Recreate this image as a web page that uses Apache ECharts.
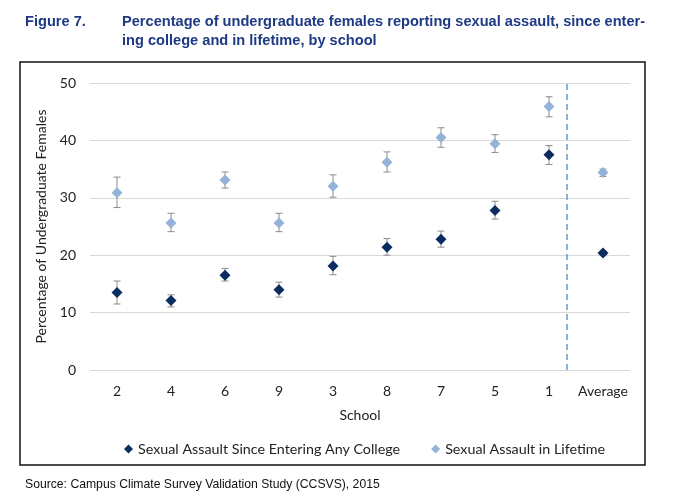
<!DOCTYPE html>
<html>
<head>
<meta charset="utf-8">
<script src="https://cdn.jsdelivr.net/npm/echarts@6/dist/echarts.min.js"></script>
<style>html,body{margin:0;padding:0;background:#fff}#c{width:674px;height:502px}</style>
</head>
<body>
<div id="c"></div>
<script>
const schools = ['2','4','6','9','3','8','7','5','1','Average'];
const sinceCollege = [13.5, 12.1, 16.5, 14.0, 18.1, 21.4, 22.8, 27.8, 37.5, 20.4];
const sinceCollegeLow = [11.5, 11.0, 15.5, 12.7, 16.6, 20.0, 21.4, 26.3, 35.8, 20.1];
const sinceCollegeHigh = [15.5, 13.1, 17.7, 15.3, 19.8, 22.9, 24.2, 29.4, 39.1, 20.7];
const lifetime = [30.9, 25.6, 33.1, 25.6, 32.0, 36.2, 40.5, 39.4, 45.9, 34.4];
const lifetimeLow = [28.3, 24.1, 31.7, 24.1, 30.1, 34.5, 38.8, 37.9, 44.1, 33.7];
const lifetimeHigh = [33.6, 27.3, 34.5, 27.3, 34.0, 38.0, 42.2, 41.0, 47.6, 35.0];
const yTicks = [0, 10, 20, 30, 40, 50];
const separatorAt = 8.83;

const FONT = 'Lato';
const chart = echarts.init(document.getElementById('c'), null, {renderer: 'canvas'});

function errData(lo, hi) {
  return lo.map((v, i) => [i, v, hi[i]]);
}
function errRender(params, api) {
  const x = api.value(0);
  const pHi = api.coord([x, api.value(2)]);
  const pLo = api.coord([x, api.value(1)]);
  const w = 3.5;
  const st = {stroke: '#8c8c8c', lineWidth: 1, fill: null};
  return {
    type: 'group',
    children: [
      {type: 'line', shape: {x1: pHi[0], y1: pHi[1], x2: pLo[0], y2: pLo[1]}, style: st},
      {type: 'line', shape: {x1: pHi[0] - w, y1: pHi[1], x2: pHi[0] + w, y2: pHi[1]}, style: st},
      {type: 'line', shape: {x1: pLo[0] - w, y1: pLo[1], x2: pLo[0] + w, y2: pLo[1]}, style: st}
    ]
  };
}

const titleStyle = {fontFamily: 'Liberation Sans', fontWeight: 'bold', fontSize: 14.6, color: '#1e3a84', lineHeight: 19};

chart.setOption({
  animation: false,
  title: [
    {text: 'Figure 7.', left: 20, top: 7, textStyle: titleStyle},
    {text: 'Percentage of undergraduate females reporting sexual assault, since enter-\ning college and in lifetime, by school', left: 117, top: 7, textStyle: titleStyle},
    {text: 'Source: Campus Climate Survey Validation Study (CCSVS), 2015', left: 20, top: 474,
     textStyle: {fontFamily: 'Liberation Sans', fontWeight: 'normal', fontSize: 12.2, color: '#111'}}
  ],
  graphic: [
    {type: 'rect', shape: {x: 20, y: 62, width: 625, height: 403}, style: {fill: null, stroke: '#111', lineWidth: 1.5}, silent: true}
  ],
  legend: {
    data: ['Sexual Assault Since Entering Any College', 'Sexual Assault in Lifetime'],
    left: 119, top: 437,
    icon: 'diamond', itemWidth: 9, itemHeight: 9, itemGap: 31,
    textStyle: {fontFamily: FONT, fontSize: 14.3, color: '#222'},
    selectedMode: false
  },
  grid: {left: 90, right: 44, top: 83, bottom: 132},
  xAxis: [
    {
      type: 'category', data: schools,
      axisLine: {lineStyle: {color: '#d9d9d9'}},
      axisTick: {show: false},
      axisLabel: {interval: 0, fontFamily: FONT, fontSize: 14, color: '#222', margin: 14},
      name: 'School', nameLocation: 'middle', nameGap: 38,
      nameTextStyle: {fontFamily: FONT, fontSize: 14, color: '#222'}
    },
    {type: 'value', min: 0, max: 10, show: false}
  ],
  yAxis: {
    type: 'value', min: yTicks[0], max: yTicks[yTicks.length - 1], interval: 10,
    axisLine: {show: false}, axisTick: {show: false},
    splitLine: {lineStyle: {color: '#d9d9d9'}},
    axisLabel: {fontFamily: FONT, fontSize: 14, color: '#222', margin: 14},
    name: 'Percentage of Undergraduate Females', nameLocation: 'middle', nameGap: 40,
    nameTextStyle: {fontFamily: FONT, fontSize: 14, color: '#222'}
  },
  series: [
    {type: 'custom', name: 'err1', renderItem: errRender, data: errData(sinceCollegeLow, sinceCollegeHigh), z: 1, silent: true},
    {type: 'custom', name: 'err2', renderItem: errRender, data: errData(lifetimeLow, lifetimeHigh), z: 1, silent: true},
    {type: 'scatter', name: 'Sexual Assault Since Entering Any College', data: sinceCollege,
     symbol: 'diamond', symbolSize: 11, itemStyle: {color: '#0a2c5e', opacity: 1}, z: 3},
    {type: 'scatter', name: 'Sexual Assault in Lifetime', data: lifetime,
     symbol: 'diamond', symbolSize: 11, itemStyle: {color: '#95b3d7', opacity: 1}, z: 3},
    {type: 'scatter', name: 'sep', xAxisIndex: 1, data: [], silent: true,
     markLine: {symbol: 'none', silent: true, label: {show: false},
       lineStyle: {type: [6, 4], color: '#5b9bd5', width: 1.5, opacity: 1},
       emphasis: {disabled: true},
       data: [{xAxis: separatorAt}]}}
  ]
});
</script>
</body>
</html>
